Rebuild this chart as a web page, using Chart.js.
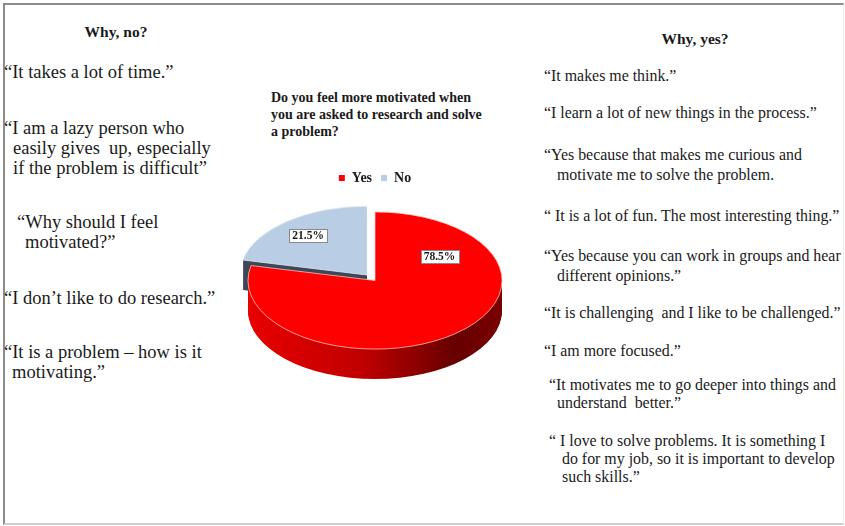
<!DOCTYPE html>
<html>
<head>
<meta charset="utf-8">
<script src="https://cdn.jsdelivr.net/npm/chart.js@4.4.1/dist/chart.umd.min.js"></script>
<style>
  body { margin:0; width:845px; height:526px; overflow:hidden; background:#fff; font-family:'Liberation Serif','Times New Roman',serif; color:#1a1a1a; position:relative; }
  #frame { position:absolute; left:3px; top:3px; width:838px; height:518px; border-left:2px solid #8c8c8c; border-top:2px solid #8c8c8c; border-bottom:2px solid #cfcfcf; border-right:1px solid #ececec; }
  .head { position:absolute; font-weight:bold; font-size:15.5px; text-align:center; }
  .q { position:absolute; white-space:nowrap; line-height:20px; }
  .left .q { font-size:18.5px; }
  .right .q { font-size:15.9px; }
  .q span { display:block; }
  #title { position:absolute; left:271px; top:89px; font-weight:bold; font-size:14px; line-height:17px; color:#1a1a1a; }
  #pie-wrap { position:absolute; left:225px; top:162px; width:300px; height:240px; }
</style>
</head>
<body>
<div id="frame"></div>

<!-- "no" answers -->
<div class="left">
  <div class="head" style="left:0;top:23px;width:232px;">Why, no?</div>
  <div class="q" style="left:4px;top:62px;">“It takes a lot of time.”</div>
  <div class="q" style="left:4px;top:118px;">“I am a lazy person who<span style="padding-left:9px">easily gives&nbsp; up, especially</span><span style="padding-left:9px">if the problem is difficult”</span></div>
  <div class="q" style="left:17px;top:212px;">“Why should I feel<span style="padding-left:8px">motivated?”</span></div>
  <div class="q" style="left:4px;top:288px;">“I don’t like to do research.”</div>
  <div class="q" style="left:4px;top:342px;">“It is a problem – how is it<span style="padding-left:8px">motivating.”</span></div>
</div>

<!-- "yes" answers -->
<div class="right">
  <div class="head" style="left:595px;top:30px;width:200px;">Why, yes?</div>
  <div class="q" style="left:544px;top:66px;">“It makes me think.”</div>
  <div class="q" style="left:544px;top:103px;">“I learn a lot of new things in the process.”</div>
  <div class="q" style="left:544px;top:145px;">“Yes because that makes me curious and<span style="padding-left:13px">motivate me to solve the problem.</span></div>
  <div class="q" style="left:544px;top:206px;">“ It is a lot of fun. The most interesting thing.”</div>
  <div class="q" style="left:544px;top:246px;">“Yes because you can work in groups and hear<span style="padding-left:13px">different opinions.”</span></div>
  <div class="q" style="left:544px;top:303px;">“It is challenging&nbsp; and I like to be challenged.”</div>
  <div class="q" style="left:544px;top:341px;">“I am more focused.”</div>
  <div class="q" style="left:549px;top:376px;line-height:18px;">“It motivates me to go deeper into things and<span style="padding-left:8px">understand&nbsp; better.”</span></div>
  <div class="q" style="left:549px;top:432px;line-height:18px;">“ I love to solve problems. It is something I<span style="padding-left:13px">do for my job, so it is important to develop</span><span style="padding-left:13px">such skills.”</span></div>
</div>

<div id="title">Do you feel more motivated when<br>you are asked to research and solve<br>a problem?</div>
<div id="pie-wrap"><canvas id="pie"></canvas></div>

<script>
// survey answers (percent of respondents)
const categories = ['Yes', 'No'];
const shares     = [78.5, 21.5];

const TOP_COLORS  = ['#ff0000', '#b9cde5'];
const EDGE_COLORS = ['#ffc4c4', '#e3ebf5'];
const EXPLODE     = [0, 52];   // arc offset (element moves offset/4 px)

// fake 3D: squash the pie vertically and stack darker layers under it
const tiltPlugin = {
  id: 'tilt',
  beforeDatasetsDraw(chart, args, opts) {
    const ctx  = chart.ctx;
    const arcs = chart.getDatasetMeta(0).data;
    if (!arcs.length) return;
    const cx = arcs[0].x, cy = arcs[0].y, r = arcs[0].outerRadius, k = opts.ratio;

    const redSide = ctx.createLinearGradient(cx - r, 0, cx + r, 0);
    redSide.addColorStop(0,    '#e80000');
    redSide.addColorStop(0.45, '#c00000');
    redSide.addColorStop(0.82, '#660000');
    redSide.addColorStop(1,    '#7a0000');
    const sides = [redSide, '#3c4858'];

    ctx.save();
    for (let d = opts.depth; d >= 1; d--) {
      arcs.forEach((arc, i) => {
        const half = (arc.startAngle + arc.endAngle) / 2;
        const off  = (arc.options.offset || 0) / 4;
        const ax = arc.x + Math.cos(half) * off;
        const ay = cy + Math.sin(half) * off * k;
        ctx.beginPath();
        ctx.moveTo(ax, ay + d);
        ctx.ellipse(ax, ay + d, arc.outerRadius, arc.outerRadius * k, 0, arc.startAngle, arc.endAngle);
        ctx.closePath();
        ctx.fillStyle = sides[i];
        ctx.fill();
      });
    }
    ctx.restore();

    // top faces are drawn by chart.js under this transform
    ctx.save();
    ctx.translate(cx, cy);
    ctx.scale(1, k);
    ctx.translate(-cx, -cy);
  },
  afterDatasetsDraw(chart, args, opts) {
    const ctx = chart.ctx;
    ctx.restore();

    const arcs = chart.getDatasetMeta(0).data;
    const cy = arcs[0].y, k = opts.ratio;
    ctx.save();
    ctx.font = 'bold 11.5px "Liberation Serif", serif';
    ctx.textAlign = 'center';
    ctx.textBaseline = 'middle';
    arcs.forEach((arc, i) => {
      const half = (arc.startAngle + arc.endAngle) / 2;
      const off  = (arc.options.offset || 0) / 4;
      const ang  = opts.labelAngle[i] == null ? half : opts.labelAngle[i] * Math.PI / 180;
      const dist = opts.labelDist[i] * arc.outerRadius;
      const lx = arc.x + Math.cos(half) * off + Math.cos(ang) * dist;
      const ly = cy + (Math.sin(half) * off + Math.sin(ang) * dist) * k;
      const text = shares[i].toFixed(1) + '%';
      const w = ctx.measureText(text).width + 6, h = 13;
      ctx.fillStyle = '#fff';
      ctx.fillRect(Math.round(lx - w / 2) + 0.5, Math.round(ly - h / 2) + 0.5, Math.round(w), h);
      ctx.strokeStyle = '#8a8a8a';
      ctx.lineWidth = 1;
      ctx.strokeRect(Math.round(lx - w / 2) + 0.5, Math.round(ly - h / 2) + 0.5, Math.round(w), h);
      ctx.fillStyle = '#1a1a1a';
      ctx.fillText(text, lx, ly + 0.5);
    });
    ctx.restore();
  }
};

new Chart(document.getElementById('pie'), {
  type: 'pie',
  data: {
    labels: categories,
    datasets: [{
      data: shares,
      backgroundColor: TOP_COLORS,
      borderColor: EDGE_COLORS,
      borderWidth: 1,
      offset: EXPLODE,
      clip: false,
    }]
  },
  options: {
    responsive: true,
    maintainAspectRatio: false,
    animation: false,
    radius: 127,
    layout: { padding: { bottom: 36 } },
    events: [],
    plugins: {
      tooltip: { enabled: false },
      title: { display: false },
      legend: {
        position: 'top',
        labels: {
          color: '#1a1a1a',
          boxWidth: 6,
          boxHeight: 6,
          padding: 9,
          font: { family: "'Liberation Serif', serif", weight: 'bold', size: 14 },
          generateLabels(chart) {
            return Chart.overrides.pie.plugins.legend.labels.generateLabels(chart)
              .map(l => Object.assign(l, { lineWidth: 0 }));
          }
        }
      },
      tilt: { ratio: 0.54, depth: 30, labelAngle: [-35, null], labelDist: [0.62, 0.74] }
    }
  },
  plugins: [tiltPlugin]
});
</script>
</body>
</html>
